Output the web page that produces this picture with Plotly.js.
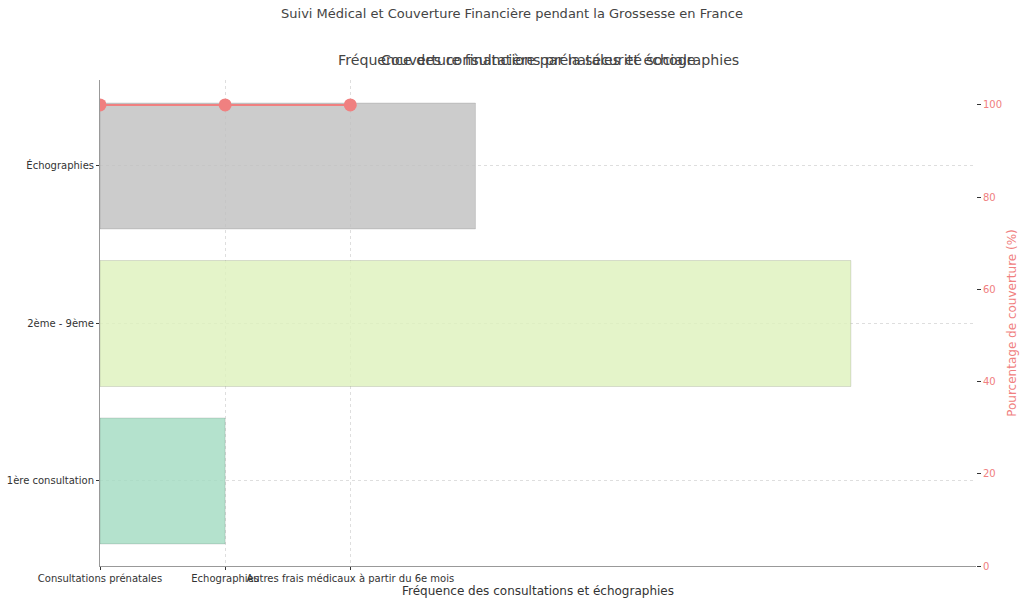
<!DOCTYPE html>
<html>
<head>
<meta charset="utf-8">
<script src="https://cdn.plot.ly/plotly-3.0.1.min.js"></script>
<style>
  html, body { margin: 0; padding: 0; background: #fff; }
  #chart { width: 1024px; height: 605px; }
</style>
</head>
<body>
<div id="chart"></div>
<script>
// Fréquence des consultations (barres horizontales)
const etapes = ['1ère consultation', '2ème - 9ème', 'Échographies'];
const frequences = [1, 6, 3];
const couleursBarres = ['rgba(161,219,193,0.8)', 'rgba(221,241,188,0.8)', 'rgba(191,191,191,0.8)'];

// Couverture par la sécurité sociale (ligne)
const postes = ['Consultations prénatales', 'Echographies', 'Autres frais médicaux à partir du 6e mois'];
const couverture = [100, 100, 100];

const police = 'DejaVu Sans, Liberation Sans, sans-serif';
const texte = '#333333';
const corail = '#f08080';

const barres = {
  type: 'bar',
  orientation: 'h',
  x: frequences,
  y: etapes,
  width: 0.8,
  marker: {
    color: couleursBarres,
    line: { color: 'rgba(0,0,0,0.12)', width: 1 }
  },
  hoverinfo: 'x+y',
  xaxis: 'x',
  yaxis: 'y'
};

const ligne = {
  type: 'scatter',
  mode: 'lines+markers',
  x: postes,
  y: couverture,
  line: { color: corail, width: 2 },
  marker: { color: corail, size: 13 },
  xaxis: 'x2',
  yaxis: 'y2'
};

const layout = {
  width: 1024,
  height: 605,
  margin: { l: 100, r: 48, t: 80, b: 39 },
  paper_bgcolor: '#ffffff',
  plot_bgcolor: '#ffffff',
  font: { family: police, size: 10, color: texte },
  showlegend: false,
  title: {
    text: 'Suivi Médical et Couverture Financière pendant la Grossesse en France',
    x: 0.5, xref: 'container', xanchor: 'center',
    y: 1 - 13 / 605, yref: 'container', yanchor: 'middle',
    font: { size: 13, color: '#444444' }
  },
  annotations: [
    {
      text: 'Fréquence des consultations prénatales et échographies',
      xref: 'paper', yref: 'paper', x: 0.5, y: 1 + 20 / 486,
      xanchor: 'center', yanchor: 'middle', showarrow: false,
      font: { size: 14.2, color: '#444444' }
    },
    {
      text: 'Couverture financière par la sécurité sociale',
      xref: 'paper', yref: 'paper', x: 0.5, y: 1 + 20 / 486,
      xanchor: 'center', yanchor: 'middle', showarrow: false,
      font: { size: 14.2, color: '#444444' }
    }
  ],
  xaxis: {
    range: [0, 7],
    showticklabels: false,
    showgrid: false,
    zeroline: false,
    showline: true,
    linecolor: '#999999',
    linewidth: 1,
    ticks: ''
  },
  yaxis: {
    type: 'category',
    range: [-0.54, 2.546],
    showgrid: true,
    gridcolor: '#d6d6d6',
    griddash: 'dot',
    gridwidth: 0.8,
    zeroline: false,
    showline: true,
    linecolor: '#999999',
    linewidth: 1,
    ticks: 'outside',
    ticklen: 3,
    tickcolor: '#333333',
    tickfont: { size: 10, color: texte }
  },
  xaxis2: {
    type: 'category',
    overlaying: 'x',
    side: 'bottom',
    anchor: 'y',
    range: [0, 7],
    tickangle: 0,
    showgrid: true,
    gridcolor: '#d6d6d6',
    griddash: 'dot',
    gridwidth: 0.8,
    zeroline: false,
    showline: false,
    ticks: 'outside',
    ticklen: 3,
    tickcolor: '#333333',
    tickfont: { size: 10, color: texte },
    title: {
      text: 'Fréquence des consultations et échographies',
      font: { size: 12, color: texte },
      standoff: 3
    }
  },
  yaxis2: {
    overlaying: 'y',
    side: 'right',
    anchor: 'x',
    range: [0, 105.4],
    tickvals: [0, 20, 40, 60, 80, 100],
    showgrid: false,
    zeroline: false,
    showline: false,
    ticks: 'outside',
    ticklen: 4,
    tickcolor: '#333333',
    tickfont: { size: 10, color: corail },
    title: {
      text: 'Pourcentage de couverture (%)',
      font: { size: 12, color: corail },
      standoff: 6
    }
  }
};

Plotly.newPlot('chart', [barres, ligne], layout, { displayModeBar: false, staticPlot: true });
</script>
</body>
</html>
